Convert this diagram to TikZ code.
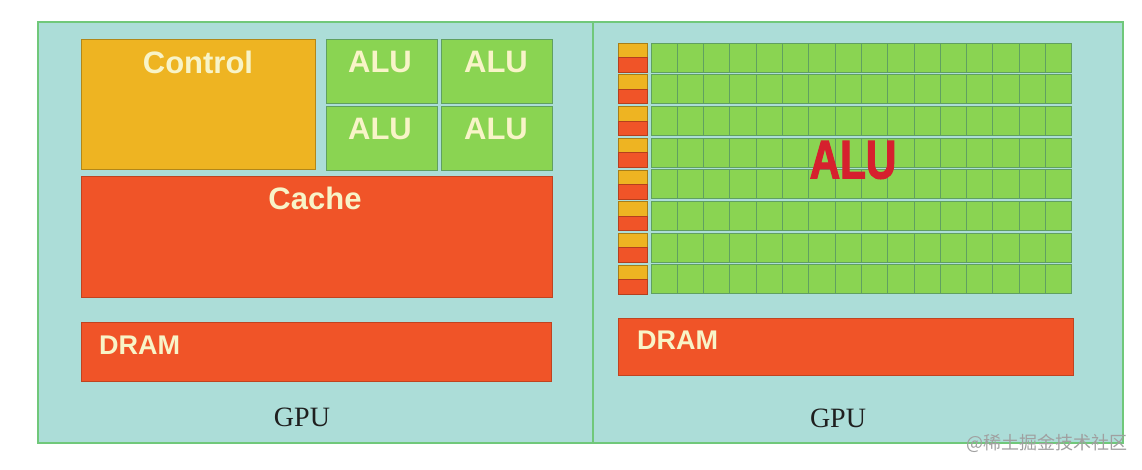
\documentclass[tikz,border=0pt]{standalone}
\usepackage{fontspec}
\setmainfont{Liberation Sans}
\newfontfamily\gpuserif{Liberation Serif}
\newfontfamily\cjk{Noto Sans CJK SC}
\newfontfamily\heavysans[BoldFont={Liberation Sans Bold}, BoldFeatures={FakeBold=2.5}]{Liberation Sans}
\definecolor{panelbg}{RGB}{172,221,216}
\definecolor{panelborder}{RGB}{112,200,122}
\definecolor{ctrlyellow}{RGB}{238,180,34}
\definecolor{cachered}{RGB}{240,84,40}
\definecolor{alugreen}{RGB}{138,212,82}
\definecolor{aluedge}{RGB}{96,160,96}
\definecolor{boxtext}{RGB}{248,244,200}
\definecolor{redtext}{RGB}{214,32,46}
\definecolor{wmgray}{RGB}{160,160,160}
\tikzset{
  blk/.style={rectangle, anchor=north west, inner sep=0pt, outer sep=0pt},
  panel/.style={blk, fill=panelbg, draw=panelborder, line width=1.6pt},
  ctrlbox/.style={blk, fill=ctrlyellow, draw=ctrlyellow!75!black, line width=0.8pt},
  redbox/.style={blk, fill=cachered, draw=cachered!80!black, line width=0.8pt},
  alubox/.style={blk, fill=alugreen, draw=aluedge, line width=1pt},
  cellbox/.style={blk, fill=alugreen, draw=aluedge, line width=0.9pt},
  boxlabel/.style={text=boxtext, font=\bfseries\fontsize{31}{31}\selectfont, inner sep=0pt},
  dramlabel/.style={text=boxtext, font=\bfseries\fontsize{27}{27}\selectfont, inner sep=0pt, anchor=west},
  gpulabel/.style={text=black!88, font=\gpuserif\fontsize{28}{28}\selectfont, inner sep=0pt},
}
\begin{document}
\begin{tikzpicture}[x=1pt,y=-1pt]
\useasboundingbox (0,0) rectangle (1142,469);
% panels
\node[panel, minimum width=555, minimum height=421] (leftpanel) at (38,22) {};
\node[panel, minimum width=530, minimum height=421] (rightpanel) at (593,22) {};
% left panel contents
\node[ctrlbox, minimum width=234, minimum height=130] (control) at (81,39) {};
\node[boxlabel] (controllabel) at (198,62) {Control};
\node[alubox, minimum width=111, minimum height=64] (alu1) at (326,39) {};
\node[alubox, minimum width=111, minimum height=64] (alu2) at (441,39) {};
\node[alubox, minimum width=111, minimum height=64] (alu3) at (326,106) {};
\node[alubox, minimum width=111, minimum height=64] (alu4) at (441,106) {};
\node[boxlabel] (alu1label) at (380,62) {ALU};
\node[boxlabel] (alu2label) at (496,62) {ALU};
\node[boxlabel] (alu3label) at (380,129) {ALU};
\node[boxlabel] (alu4label) at (496,129) {ALU};
\node[redbox, minimum width=471, minimum height=121] (cache) at (81,176) {};
\node[boxlabel] (cachelabel) at (315,198) {Cache};
\node[redbox, minimum width=470, minimum height=59] (dramleft) at (81,322) {};
\node[dramlabel] (dramleftlabel) at (99,345) {DRAM};
\node[gpulabel] (gpuleft) at (302,417) {GPU};
% right panel grid
\foreach \r in {0,...,7}{
  \node[blk, fill=ctrlyellow, draw=ctrlyellow!70!black, line width=0.6pt,
        minimum width=29, minimum height=14.5] (ctl\r) at (618,43+\r*31.7) {};
  \node[blk, fill=cachered, draw=cachered!75!black, line width=0.6pt,
        minimum width=29, minimum height=14.5] (cch\r) at (618,57.5+\r*31.7) {};
  \foreach \c in {0,...,15}{
    \node[cellbox, minimum width=26.3, minimum height=29] (cell\r-\c) at (651+\c*26.3,43+\r*31.7) {};
  }
}
\node[text=redtext, font=\heavysans\bfseries\fontsize{54}{54}\selectfont, inner sep=0pt, xscale=0.78] (alubig) at (853,160) {ALU};
\node[redbox, minimum width=455, minimum height=57] (dramright) at (618,318) {};
\node[dramlabel] (dramrightlabel) at (637,340) {DRAM};
\node[gpulabel] (gpuright) at (838,418) {GPU};
% watermark
\node[text=wmgray, font=\cjk\fontsize{18}{18}\selectfont, inner sep=0pt, anchor=east] (watermark) at (1128,443) {@稀土掘金技术社区};
\end{tikzpicture}
\end{document}
